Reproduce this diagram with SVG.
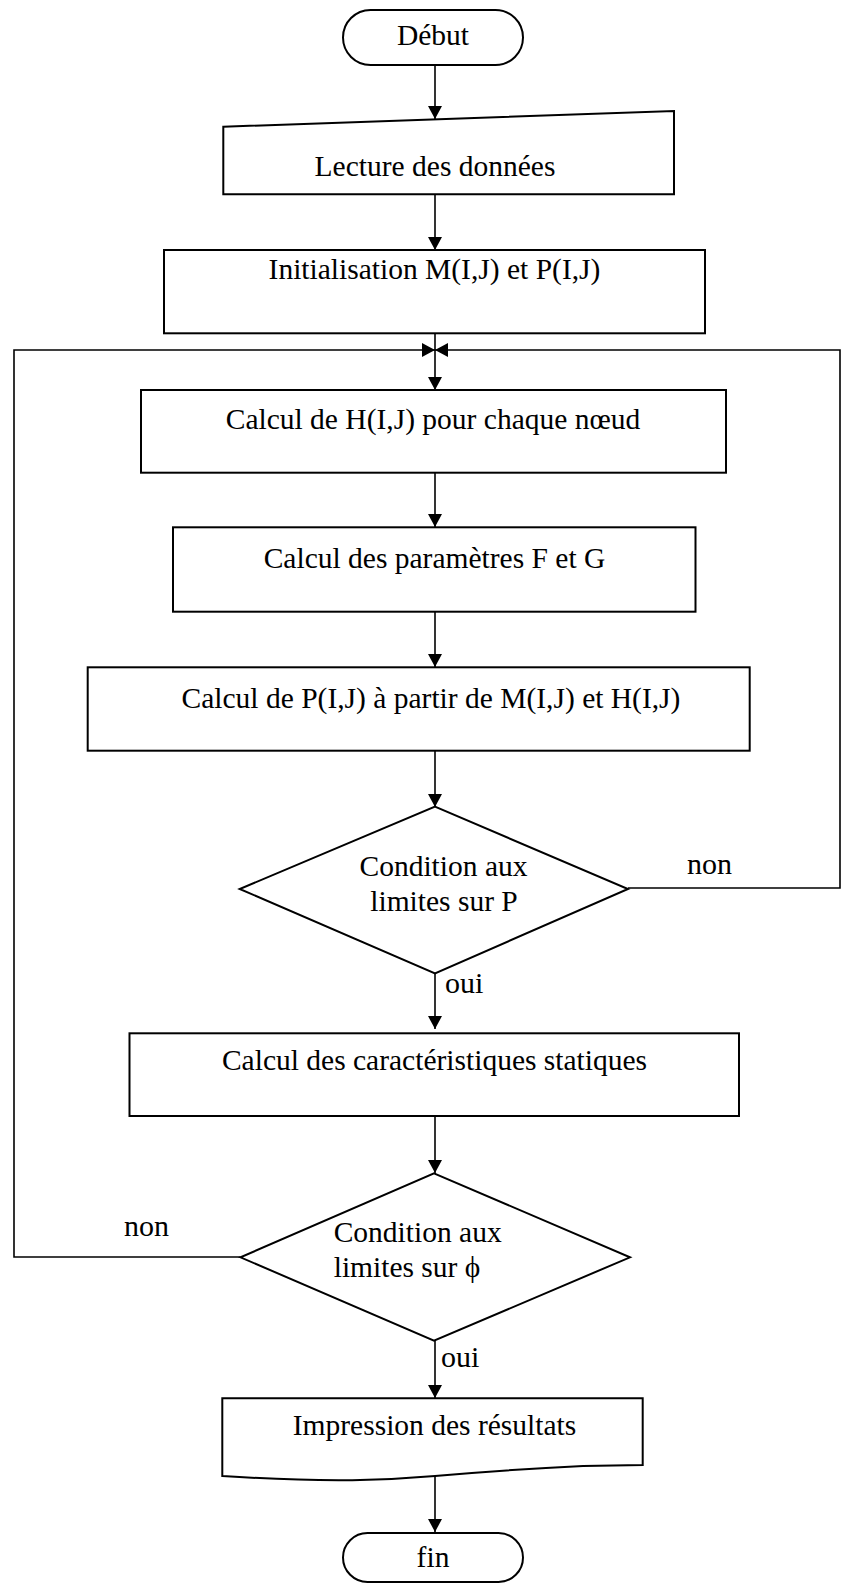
<svg xmlns="http://www.w3.org/2000/svg" width="842" height="1584" viewBox="0 0 842 1584">
<style>
.shape{fill:#fff;stroke:#000;stroke-width:2}
.conn{fill:none;stroke:#000;stroke-width:1.6}
.t{font-family:"Liberation Serif","Times New Roman",serif;font-size:29.5px;fill:#000;text-anchor:middle}
.lbl{font-family:"Liberation Serif","Times New Roman",serif;font-size:30px;fill:#000}
</style>
<defs>
<marker id="ah" markerUnits="userSpaceOnUse" viewBox="0 0 13 14" refX="13" refY="7" markerWidth="13" markerHeight="14" orient="auto">
<path d="M0,0 L13,7 L0,14 z" fill="#000"/>
</marker>
</defs>
<rect width="842" height="1584" fill="#fff"/>
<g id="connectors">
<line class="conn" x1="435" y1="65" x2="435" y2="119" marker-end="url(#ah)"/>
<line class="conn" x1="435" y1="194" x2="435" y2="250" marker-end="url(#ah)"/>
<line class="conn" x1="435" y1="333" x2="435" y2="390" marker-end="url(#ah)"/>
<path class="conn" d="M240.5,1257 H14 V350 H435" marker-end="url(#ah)"/>
<path class="conn" d="M628,888 H840 V350 H435" marker-end="url(#ah)"/>
<line class="conn" x1="435" y1="473" x2="435" y2="527" marker-end="url(#ah)"/>
<line class="conn" x1="435" y1="612" x2="435" y2="667" marker-end="url(#ah)"/>
<line class="conn" x1="435" y1="751" x2="435" y2="807" marker-end="url(#ah)"/>
<line class="conn" x1="435" y1="973" x2="435" y2="1029" marker-end="url(#ah)"/>
<line class="conn" x1="435" y1="1116" x2="435" y2="1173" marker-end="url(#ah)"/>
<line class="conn" x1="435" y1="1341" x2="435" y2="1398" marker-end="url(#ah)"/>
<line class="conn" x1="435" y1="1475" x2="435" y2="1532" marker-end="url(#ah)"/>
<text class="lbl" x="687" y="874">non</text>
<text class="lbl" x="445" y="993">oui</text>
<text class="lbl" x="124" y="1236">non</text>
<text class="lbl" x="441" y="1367">oui</text>
</g>
<g id="debut">
<rect class="shape" x="343" y="10" width="180" height="55" rx="27.5" ry="27.5"/>
<text class="t" x="433" y="45">Début</text>
</g>
<g id="lecture">
<path class="shape" d="M223.3,126.7 L674,111 L674,194.3 L223.3,194.3 Z"/>
<text class="t" x="435" y="176">Lecture des données</text>
</g>
<g id="init">
<rect class="shape" x="164" y="250" width="541" height="83.3"/>
<text class="t" x="434.5" y="279">Initialisation M(I,J) et P(I,J)</text>
</g>
<g id="calculH">
<rect class="shape" x="141" y="390" width="585" height="82.7"/>
<text class="t" x="433" y="429">Calcul de H(I,J) pour chaque nœud</text>
</g>
<g id="calculFG">
<rect class="shape" x="173" y="527.3" width="522.5" height="84.4"/>
<text class="t" x="434.5" y="568">Calcul des paramètres F et G</text>
</g>
<g id="calculP">
<rect class="shape" x="87.7" y="667.3" width="662" height="83.4"/>
<text class="t" x="431" y="708">Calcul de P(I,J) à partir de M(I,J) et H(I,J)</text>
</g>
<g id="condP">
<polygon class="shape" points="435,806.7 628,889 435,973.3 239.7,889"/>
<text class="t" x="443.5" y="876">Condition aux</text>
<text class="t" x="444" y="911">limites sur P</text>
</g>
<g id="carac">
<rect class="shape" x="129.5" y="1033.3" width="609.5" height="82.7"/>
<text class="t" x="434.5" y="1070">Calcul des caractéristiques statiques</text>
</g>
<g id="condPhi">
<polygon class="shape" points="434,1173.3 630,1257.3 434,1340.7 240.5,1257.3"/>
<text class="t" x="333.7" y="1242" style="text-anchor:start">Condition aux</text>
<text class="t" x="333.7" y="1277" style="text-anchor:start">limites sur ϕ</text>
</g>
<g id="impression">
<path class="shape" d="M222.3,1398.3 L642.7,1398.3 L642.7,1465 L583,1466 C520,1469 470,1473 435,1476 C390,1480 330,1483 222.3,1476 Z"/>
<text class="t" x="434.5" y="1435">Impression des résultats</text>
</g>
<g id="fin">
<rect class="shape" x="343" y="1533" width="180" height="49" rx="24.5" ry="24.5"/>
<text class="t" x="433" y="1567">fin</text>
</g>
</svg>
